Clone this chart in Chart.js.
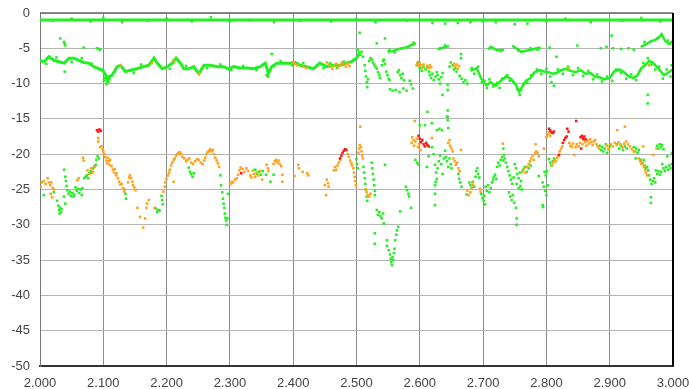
<!DOCTYPE html>
<html>
<head>
<meta charset="utf-8">
<script src="https://cdn.jsdelivr.net/npm/chart.js@4/dist/chart.umd.min.js"></script>
<style>
  html, body { margin: 0; padding: 0; background: #fff; }
  #wrap { width: 689px; height: 389px; }
</style>
</head>
<body>
<div id="wrap"><canvas id="chart" width="689" height="389"></canvas></div>
<script>
// axis ticks
const xTicks = [2.0, 2.1, 2.2, 2.3, 2.4, 2.5, 2.6, 2.7, 2.8, 2.9, 3.0];
const yTicks = [0, -5, -10, -15, -20, -25, -30, -35, -40, -45, -50];

// dense green trace near the top
const topLine = [[2.0, -1.0], [3.0, -1.0]];
const topDots = [[2.02,-1.1],[2.05,-0.8],[2.08,-1.2],[2.10,-0.7],[2.13,-1.3],[2.17,-1.1],[2.20,-0.8],[2.24,-1.2],[2.27,-0.6],[2.30,-1.2],[2.33,-1.0],[2.37,-1.3],[2.41,-1.1],[2.46,-1.2],[2.50,-0.9],[2.53,-1.3],[2.58,-1.1],[2.62,-1.4],[2.64,-1.5],[2.66,-1.4],[2.68,-1.3],[2.70,-1.2],[2.72,-1.3],[2.75,-1.6],[2.77,-1.5],[2.80,-1.2],[2.83,-0.8],[2.87,-1.3],[2.92,-1.1],[2.95,-0.7],[2.98,-1.2]];

// middle band, green trace 2.0 - 2.5
const midBand = [[2.000,-6.7],[2.006,-6.9],[2.014,-6.2],[2.022,-6.7],[2.030,-6.9],[2.038,-7.1],[2.046,-6.4],[2.054,-6.4],[2.061,-6.7],[2.069,-7.0],[2.077,-7.1],[2.085,-7.6],[2.093,-7.9],[2.099,-8.1],[2.104,-8.8],[2.106,-9.5],[2.109,-9.0],[2.114,-8.8],[2.122,-7.6],[2.127,-7.4],[2.135,-8.3],[2.143,-8.1],[2.153,-7.9],[2.164,-7.6],[2.172,-7.4],[2.180,-6.4],[2.185,-7.1],[2.193,-7.9],[2.201,-7.6],[2.209,-7.1],[2.215,-6.4],[2.222,-7.1],[2.227,-7.9],[2.235,-7.9],[2.243,-7.6],[2.251,-8.6],[2.259,-7.4],[2.269,-7.4],[2.280,-7.6],[2.290,-7.6],[2.298,-7.9],[2.306,-7.6],[2.316,-7.8],[2.327,-7.8],[2.337,-7.9],[2.348,-7.6],[2.356,-7.1],[2.361,-8.6],[2.366,-7.6],[2.374,-7.1],[2.385,-7.1],[2.395,-7.1],[2.403,-7.0],[2.411,-7.4],[2.421,-7.6],[2.432,-7.9],[2.442,-7.1],[2.453,-7.6],[2.463,-7.4],[2.474,-7.4],[2.484,-7.1],[2.492,-6.9],[2.500,-6.4],[2.504,-5.8]];

// middle band, lower branch trace 2.68 - 3.0
const lowBranch = [[2.680,-8.2],[2.690,-7.8],[2.697,-9.3],[2.705,-10.2],[2.712,-9.8],[2.720,-10.3],[2.728,-9.6],[2.736,-9.0],[2.744,-9.3],[2.752,-10.2],[2.757,-11.2],[2.762,-10.4],[2.768,-9.6],[2.775,-9.2],[2.781,-8.4],[2.790,-8.1],[2.797,-8.3],[2.803,-8.4],[2.810,-8.6],[2.816,-8.5],[2.823,-8.1],[2.830,-7.9],[2.838,-8.2],[2.846,-8.4],[2.854,-8.1],[2.862,-8.6],[2.870,-8.5],[2.876,-9.0],[2.884,-9.1],[2.892,-9.4],[2.900,-9.2],[2.907,-8.3],[2.915,-8.0],[2.923,-8.4],[2.930,-9.0],[2.938,-9.2],[2.944,-8.8],[2.950,-7.8],[2.956,-7.4],[2.962,-6.8],[2.968,-7.0],[2.974,-7.6],[2.980,-8.2],[2.986,-8.8],[2.992,-8.5],[2.999,-8.0]];

// upper branch pieces (null = gap)
const upBranch = [[2.549,-5.5],[2.557,-5.4],[2.567,-5.1],[2.578,-4.9],[2.588,-4.5],[2.594,-4.3],[2.60,null],[2.628,-5.2],[2.636,-4.9],[2.646,-4.7],[2.65,null],[2.707,-5.1],[2.715,-4.9],[2.722,-5.3],[2.733,-5.2],[2.74,null],[2.746,-4.6],[2.752,-5.0],[2.760,-5.5],[2.770,-5.3],[2.780,-5.1],[2.791,-4.9],[2.80,null],[2.949,-4.8],[2.958,-4.4],[2.965,-4.0],[2.972,-3.8],[2.978,-3.4],[2.982,-3.0],[2.988,-4.0],[2.994,-4.4],[2.999,-4.0]];

const greenPts = [
  // upper zone outliers
  [2.032,-3.6],[2.038,-4.1],[2.039,-4.4],[2.040,-4.6],[2.069,-4.9],[2.090,-5.0],[2.093,-5.1],[2.095,-5.2],[2.039,-8.3],[2.101,-9.6],[2.105,-10.1],[2.108,-9.8],[2.103,-9.2],[2.110,-9.4],[2.358,-8.8],[2.360,-9.0],[2.366,-5.8],
  [2.505,-2.8],[2.532,-4.3],[2.545,-3.6],[2.805,-4.9],[2.816,-6.2],[2.849,-4.6],[2.886,-5.0],[2.895,-4.8],[2.903,-3.2],[2.905,-5.0],[2.918,-5.1],[2.930,-5.0],[2.938,-5.2],[2.960,-11.6],[2.960,-12.8],
  [2.552,-5.2],[2.560,-5.6],[2.572,-5.0],[2.583,-4.7],[2.590,-4.2],[2.632,-5.0],[2.640,-4.6],[2.712,-4.8],[2.728,-5.4],[2.756,-5.3],[2.775,-5.0],[2.786,-5.2],[2.955,-4.1],[2.975,-3.6],[2.992,-3.9],
  // jitter along the 2.0 - 2.5 band
  [2.010,-7.2],[2.026,-6.3],[2.050,-6.9],[2.066,-6.4],[2.082,-7.2],[2.118,-8.3],[2.131,-7.8],[2.148,-8.5],[2.160,-7.3],[2.176,-7.0],[2.190,-7.5],[2.205,-7.9],[2.219,-6.8],[2.231,-7.5],[2.247,-8.2],[2.264,-7.8],[2.285,-7.3],[2.302,-8.1],[2.321,-7.5],[2.342,-8.1],[2.352,-7.3],[2.370,-7.5],[2.380,-6.8],[2.398,-7.4],[2.416,-7.1],[2.437,-7.5],[2.448,-7.8],[2.458,-7.1],[2.469,-7.8],[2.480,-6.9],[2.496,-6.6],
  // middle band 2.5 - 2.68
  [2.502,-5.2],[2.504,-5.6],[2.506,-5.9],[2.508,-5.5],[2.510,-6.2],[2.513,-7.4],[2.514,-8.2],[2.515,-9.0],[2.516,-9.8],[2.517,-10.5],[2.518,-9.4],
  [2.520,-6.8],[2.522,-6.4],[2.524,-6.6],[2.526,-7.0],[2.528,-7.3],[2.530,-7.6],[2.532,-7.9],[2.534,-8.4],[2.536,-8.8],[2.537,-9.2],
  [2.540,-7.4],[2.542,-6.8],[2.543,-6.6],[2.545,-7.2],[2.547,-8.3],[2.549,-8.8],[2.551,-9.3],[2.552,-9.5],
  [2.553,-10.8],[2.557,-11.0],[2.562,-10.9],[2.568,-11.2],[2.574,-10.7],[2.579,-11.0],
  [2.565,-8.4],[2.567,-8.1],[2.569,-8.8],[2.571,-9.2],[2.573,-8.6],[2.575,-9.5],[2.584,-9.6],[2.586,-10.1],[2.589,-10.7],
  [2.595,-7.4],[2.597,-7.0],[2.600,-7.8],[2.603,-8.2],[2.606,-7.6],[2.609,-8.0],[2.612,-7.7],[2.615,-8.3],
  [2.616,-8.8],[2.618,-9.2],[2.620,-8.6],[2.622,-9.5],[2.625,-9.0],[2.627,-8.4],[2.628,-8.8],[2.630,-9.4],[2.632,-10.0],[2.634,-9.1],[2.636,-8.5],
  [2.644,-10.2],[2.644,-10.9],[2.636,-11.6],[2.647,-7.6],[2.649,-7.0],[2.652,-7.4],[2.654,-8.0],[2.656,-7.8],[2.658,-8.3],
  [2.663,-8.9],[2.666,-9.3],[2.669,-9.8],[2.672,-9.5],[2.675,-10.0],[2.665,-5.8],[2.665,-6.4],
  [2.644,-13.8],[2.612,-14.0],[2.644,-14.7],
  // middle band 2.68 - 3.0
  [2.682,-7.8],[2.686,-8.6],[2.692,-7.6],[2.698,-9.8],[2.702,-9.6],[2.706,-10.6],[2.710,-9.4],[2.716,-10.4],[2.722,-9.9],[2.726,-10.6],[2.730,-9.3],[2.738,-8.8],[2.742,-9.6],[2.748,-9.8],[2.754,-10.8],[2.758,-11.6],[2.760,-10.9],[2.764,-10.0],[2.770,-9.9],[2.776,-8.8],[2.785,-8.0],[2.792,-8.6],[2.800,-7.9],[2.806,-9.0],[2.808,-9.8],[2.812,-10.3],[2.818,-8.0],[2.826,-8.6],[2.834,-7.6],[2.842,-8.8],[2.850,-7.8],[2.858,-8.9],[2.866,-8.2],[2.874,-9.4],[2.880,-8.7],[2.888,-9.7],[2.896,-9.0],[2.904,-9.6],[2.910,-8.0],[2.918,-8.5],[2.926,-9.3],[2.934,-8.7],[2.942,-9.5],[2.948,-8.2],[2.953,-7.1],[2.960,-6.4],[2.966,-7.3],[2.972,-8.0],[2.978,-7.6],[2.984,-9.3],[2.990,-8.0],[2.996,-9.0],[2.998,-7.4],
  // lower band
  [2.006,-25.8],[2.022,-25.4],[2.027,-26.6],[2.029,-27.3],[2.030,-27.9],[2.031,-28.4],[2.032,-27.6],[2.033,-28.2],[2.034,-27.8],
  [2.038,-22.2],[2.040,-23.2],[2.041,-23.8],[2.042,-24.5],[2.038,-26.0],[2.040,-27.0],
  [2.043,-25.1],[2.045,-25.6],[2.047,-25.3],[2.049,-25.9],[2.051,-25.5],[2.053,-26.0],[2.054,-25.7],
  [2.056,-24.7],[2.058,-25.2],[2.060,-24.9],[2.062,-25.5],[2.064,-25.0],[2.066,-25.8],[2.067,-24.8],
  [2.070,-23.4],[2.072,-23.2],[2.074,-23.0],[2.076,-23.4],[2.078,-22.7],[2.080,-22.4],[2.082,-22.6],[2.084,-22.0],[2.086,-21.7],[2.088,-21.5],
  [2.089,-20.8],[2.091,-20.3],[2.093,-20.6],[2.135,-25.6],[2.136,-26.3],
  [2.183,-27.7],[2.185,-28.2],[2.187,-27.9],[2.189,-28.0],[2.192,-25.9],[2.193,-26.5],[2.194,-27.1],
  [2.235,-21.9],[2.237,-22.5],[2.239,-22.8],[2.241,-23.2],[2.243,-22.7],
  [2.285,-23.0],[2.286,-24.4],[2.288,-25.4],[2.289,-26.3],[2.290,-27.0],[2.291,-27.6],[2.292,-28.4],[2.293,-29.0],[2.294,-29.4],[2.295,-30.0],[2.296,-29.1],[2.297,-25.6],
  [2.340,-22.2],[2.343,-22.8],[2.346,-22.5],[2.349,-22.9],[2.352,-22.4],[2.357,-22.9],[2.364,-23.9],[2.369,-22.9],
  [2.500,-20.7],[2.501,-21.4],[2.502,-22.0],
  [2.511,-21.8],[2.512,-22.6],[2.513,-23.4],[2.514,-24.2],[2.515,-25.0],[2.516,-26.0],[2.517,-26.6],
  [2.524,-21.2],[2.525,-22.0],[2.526,-22.8],[2.527,-23.6],[2.528,-24.4],[2.529,-25.2],[2.529,-25.8],[2.545,-21.5],
  [2.532,-27.9],[2.534,-28.6],[2.536,-28.2],[2.538,-28.8],[2.540,-29.1],[2.542,-28.4],[2.543,-29.8],[2.529,-31.2],[2.529,-32.7],
  [2.548,-32.2],[2.548,-33.0],[2.551,-33.6],[2.553,-34.2],[2.554,-34.8],[2.555,-35.3],[2.556,-35.7],[2.557,-34.6],[2.558,-35.0],[2.559,-34.0],[2.560,-33.4],
  [2.561,-32.2],[2.563,-31.4],[2.564,-30.8],[2.566,-30.3],[2.569,-28.1],[2.578,-24.6],[2.580,-25.1],[2.582,-25.6],[2.583,-26.0],[2.586,-27.6],
  [2.593,-20.8],[2.596,-21.2],[2.598,-21.5],
  [2.600,-15.9],[2.608,-15.9],[2.619,-15.6],[2.627,-16.6],[2.631,-16.4],[2.635,-16.6],[2.643,-14.7],[2.644,-15.2],[2.645,-16.3],
  [2.611,-21.8],[2.614,-20.3],[2.619,-19.0],[2.622,-20.0],[2.624,-21.5],[2.626,-22.6],[2.627,-23.5],[2.628,-22.0],[2.630,-21.0],[2.632,-20.2],[2.634,-21.4],[2.636,-22.8],[2.638,-20.6],[2.640,-19.5],[2.625,-23.9],
  [2.624,-24.4],[2.624,-25.6],[2.624,-27.2],[2.641,-20.4],[2.643,-21.0],[2.645,-21.8],[2.647,-20.6],[2.649,-21.4],[2.650,-22.0],
  [2.661,-22.8],[2.662,-23.5],[2.664,-24.0],[2.666,-24.6],[2.674,-25.7],
  [2.678,-24.0],[2.680,-24.4],[2.682,-24.8],[2.684,-23.9],[2.686,-24.6],[2.688,-23.2],[2.689,-22.4],[2.691,-22.0],[2.692,-22.8],[2.694,-23.3],
  [2.697,-25.6],[2.699,-26.2],[2.701,-26.6],[2.703,-27.1],[2.702,-25.9],
  [2.704,-24.6],[2.706,-25.2],[2.708,-24.4],[2.710,-25.4],[2.712,-24.8],[2.714,-24.0],[2.716,-23.6],[2.717,-23.2],[2.719,-22.9],[2.721,-23.5],
  [2.722,-21.8],[2.724,-21.2],[2.726,-21.6],[2.728,-20.8],[2.730,-20.4],[2.732,-20.9],[2.733,-20.1],[2.734,-20.6],[2.732,-19.2],
  [2.736,-21.2],[2.738,-21.8],[2.740,-22.4],[2.742,-23.0],[2.744,-23.6],[2.746,-24.2],[2.748,-23.3],
  [2.741,-25.4],[2.743,-26.0],[2.745,-26.5],[2.747,-25.8],[2.749,-26.9],[2.752,-27.6],[2.753,-29.1],[2.753,-30.0],
  [2.750,-21.4],[2.752,-22.0],[2.754,-22.8],[2.756,-23.4],[2.758,-22.6],[2.760,-23.8],[2.753,-24.2],[2.756,-24.8],[2.759,-24.5],[2.761,-25.0],
  [2.763,-22.2],[2.766,-21.8],[2.769,-22.5],[2.772,-22.0],[2.775,-21.6],[2.788,-23.1],
  [2.794,-24.0],[2.796,-24.6],[2.798,-25.2],[2.800,-25.8],[2.802,-24.4],[2.794,-27.2],[2.795,-27.5],[2.797,-22.5],[2.799,-23.0],[2.801,-22.4],
  [2.804,-20.7],[2.806,-21.2],[2.808,-21.6],[2.810,-21.0],[2.812,-20.6],
  [2.884,-18.8],[2.886,-19.4],[2.888,-19.0],[2.890,-19.6],[2.892,-19.2],[2.894,-18.6],[2.896,-19.8],[2.898,-19.3],[2.900,-18.9],
  [2.912,-18.6],[2.915,-19.2],[2.918,-18.8],[2.921,-19.4],[2.924,-18.9],[2.927,-19.2],
  [2.938,-19.0],[2.940,-19.6],[2.942,-19.2],[2.944,-19.8],[2.946,-19.4],[2.941,-20.6],[2.949,-20.8],[2.951,-21.2],[2.954,-20.8],
  [2.955,-21.6],[2.957,-22.0],[2.959,-21.8],[2.961,-22.3],[2.962,-23.0],[2.964,-23.6],[2.966,-24.2],[2.968,-23.8],[2.970,-23.4],[2.972,-24.0],
  [2.965,-26.1],[2.965,-26.9],[2.973,-22.3],[2.975,-22.8],[2.977,-22.4],[2.979,-22.9],[2.981,-22.5],
  [2.975,-18.8],[2.977,-19.2],[2.979,-18.6],[2.981,-19.0],[2.983,-18.7],[2.985,-19.3],
  [2.983,-21.4],[2.985,-22.0],[2.987,-22.4],[2.989,-21.8],[2.991,-20.3],[2.992,-22.2],[2.994,-21.6],[2.996,-22.0],[2.998,-19.9],[2.998,-21.4]
];

const orangePts = [
  // middle band
  [2.127,-7.4],[2.177,-7.1],[2.211,-6.7],[2.251,-8.6],[2.400,-7.0],[2.403,-7.2],[2.406,-7.4],[2.416,-7.6],[2.420,-7.8],
  [2.453,-7.0],[2.456,-7.3],[2.459,-7.6],[2.462,-7.9],[2.465,-7.5],[2.468,-7.2],[2.471,-7.7],[2.474,-7.4],[2.477,-7.0],[2.480,-7.3],[2.483,-7.6],[2.486,-7.2],[2.489,-7.5],
  [2.596,-7.2],[2.598,-7.5],[2.600,-7.1],[2.602,-7.4],[2.604,-7.8],[2.606,-7.3],[2.612,-7.5],[2.614,-7.8],[2.616,-7.4],[2.618,-7.7],
  [2.654,-7.2],[2.656,-7.6],[2.658,-7.3],[2.660,-7.9],[2.662,-7.5],[2.836,-7.9],[2.962,-7.4],
  // lower band
  [2.001,-24.6],[2.003,-24.0],[2.006,-23.8],[2.009,-24.2],[2.012,-23.4],[2.014,-24.0],[2.016,-24.4],[2.018,-24.0],[2.020,-24.8],[2.022,-25.0],[2.017,-25.6],[2.019,-26.1],
  [2.059,-23.7],[2.061,-23.4],[2.068,-20.5],[2.069,-20.9],[2.075,-22.3],[2.078,-22.8],[2.081,-22.0],[2.084,-22.5],[2.086,-21.8],[2.092,-17.7],[2.092,-18.2],
  [2.095,-19.0],[2.097,-18.9],[2.099,-19.3],[2.100,-19.6],[2.102,-20.0],[2.103,-20.4],[2.105,-20.9],[2.106,-21.3],[2.107,-20.5],[2.109,-21.0],[2.110,-21.5],[2.111,-20.8],[2.113,-21.7],
  [2.115,-22.2],[2.117,-22.6],[2.118,-22.1],[2.120,-23.0],[2.121,-22.7],[2.123,-23.4],[2.125,-23.9],[2.127,-24.3],[2.129,-24.2],[2.131,-24.8],[2.133,-25.3],[2.134,-25.0],
  [2.139,-24.0],[2.141,-23.3],[2.142,-23.0],[2.144,-23.4],[2.146,-23.9],[2.147,-24.4],[2.149,-24.7],[2.151,-25.1],
  [2.154,-27.6],[2.158,-28.9],[2.163,-30.4],[2.166,-29.1],[2.168,-27.6],[2.169,-27.0],[2.172,-26.5],[2.181,-27.6],
  [2.195,-25.3],[2.197,-24.6],[2.198,-24.0],[2.200,-23.5],[2.202,-23.0],[2.204,-22.6],[2.205,-22.2],[2.207,-21.6],[2.209,-21.2],[2.211,-20.8],[2.213,-20.6],[2.215,-20.2],[2.217,-20.0],[2.219,-19.8],[2.221,-19.7],[2.223,-20.0],[2.225,-20.4],[2.211,-23.9],
  [2.228,-20.6],[2.231,-21.0],[2.233,-20.8],[2.236,-20.6],[2.239,-21.2],[2.242,-21.4],[2.245,-21.0],[2.248,-20.7],[2.251,-20.8],[2.254,-21.2],[2.257,-21.4],
  [2.259,-20.9],[2.261,-20.5],[2.263,-20.0],[2.265,-19.7],[2.267,-19.5],[2.269,-19.3],[2.271,-19.6],[2.273,-19.4],[2.275,-20.0],[2.277,-20.5],[2.279,-20.9],[2.281,-21.3],[2.283,-21.8],
  [2.301,-24.2],[2.303,-23.9],[2.305,-24.0],[2.308,-23.6],[2.311,-23.4],[2.313,-22.9],[2.315,-22.3],[2.317,-21.9],[2.320,-22.1],[2.323,-22.5],[2.326,-22.0],[2.329,-22.4],[2.332,-23.0],[2.334,-23.3],
  [2.336,-22.3],[2.338,-22.8],[2.340,-23.2],[2.342,-22.6],[2.345,-23.0],[2.348,-22.4],[2.351,-23.6],[2.358,-21.5],[2.360,-22.0],[2.361,-22.4],
  [2.369,-21.4],[2.371,-21.0],[2.373,-20.8],[2.375,-21.2],[2.377,-20.9],[2.379,-21.4],[2.381,-21.7],[2.383,-22.9],[2.383,-23.9],
  [2.402,-23.1],[2.408,-21.5],[2.409,-22.0],[2.415,-22.5],[2.422,-22.7],[2.424,-23.0],
  [2.450,-24.4],[2.452,-25.8],[2.453,-23.6],[2.455,-24.1],[2.456,-24.6],[2.464,-22.3],[2.466,-21.8],[2.468,-22.2],[2.470,-21.6],[2.472,-21.2],[2.474,-20.8],
  [2.486,-20.0],[2.488,-20.4],[2.490,-20.9],[2.492,-21.3],[2.493,-21.6],[2.495,-22.0],[2.496,-22.6],[2.497,-23.2],[2.498,-23.8],[2.499,-24.4],
  [2.503,-19.8],[2.504,-19.2],[2.505,-18.7],[2.507,-19.0],[2.508,-19.6],[2.509,-20.2],[2.510,-20.6],[2.506,-16.1],
  [2.514,-25.0],[2.516,-25.4],[2.518,-25.8],[2.520,-26.0],[2.522,-25.6],
  [2.587,-18.4],[2.588,-17.6],[2.590,-18.0],[2.591,-18.8],[2.593,-18.2],[2.595,-17.8],[2.597,-19.0],[2.599,-18.6],[2.601,-19.4],[2.592,-15.3],[2.619,-17.7],
  [2.645,-18.4],[2.647,-18.0],[2.648,-18.8],[2.650,-19.2],[2.652,-19.6],[2.653,-20.6],[2.655,-21.0],[2.657,-21.5],[2.659,-21.2],[2.661,-22.0],[2.663,-22.4],[2.665,-19.4],
  [2.675,-25.2],[2.677,-25.8],[2.680,-25.4],[2.682,-24.9],[2.683,-24.0],[2.684,-24.4],[2.695,-24.9],[2.696,-25.3],[2.731,-18.5],
  [2.762,-22.5],[2.765,-22.0],[2.767,-22.6],[2.770,-21.8],[2.772,-21.4],[2.774,-21.0],[2.776,-20.6],[2.778,-20.2],[2.780,-20.8],[2.782,-19.9],[2.784,-19.6],[2.786,-19.8],[2.788,-20.3],[2.783,-18.6],[2.796,-19.2],
  [2.800,-17.6],[2.802,-17.2],[2.804,-16.9],[2.806,-17.4],[2.809,-21.6],[2.811,-21.2],[2.813,-20.8],[2.815,-21.0],[2.817,-20.5],[2.819,-20.2],[2.821,-19.6],[2.823,-19.2],[2.825,-18.9],
  [2.836,-18.4],[2.838,-18.8],[2.840,-19.0],[2.842,-18.5],[2.844,-20.1],[2.846,-19.0],[2.848,-18.6],[2.851,-18.9],[2.853,-18.4],
  [2.857,-18.6],[2.859,-18.0],[2.861,-18.3],[2.863,-18.8],[2.865,-18.1],[2.867,-18.5],[2.869,-17.9],[2.871,-18.3],[2.873,-18.7],[2.875,-18.2],[2.877,-18.0],[2.879,-18.6],[2.881,-18.9],[2.883,-19.2],
  [2.896,-18.8],[2.899,-19.3],[2.902,-18.6],[2.905,-18.9],[2.908,-18.4],[2.911,-18.7],[2.914,-18.3],[2.917,-18.6],[2.920,-19.0],[2.923,-18.5],[2.926,-18.2],[2.929,-18.6],[2.932,-18.9],[2.935,-19.3],[2.938,-19.6],
  [2.912,-16.6],[2.924,-16.1],[2.953,-18.9],[2.946,-20.6],[2.948,-21.0],[2.950,-21.4],[2.952,-21.2],[2.954,-21.8],[2.956,-22.2],[2.957,-22.6],[2.959,-23.0],[2.969,-20.1],[2.974,-19.2]
];

const redPts = [
  [2.090,-16.6],[2.092,-16.8],[2.094,-16.5],[2.096,-16.7],[2.318,-22.7],
  [2.474,-20.6],[2.476,-20.2],[2.478,-19.8],[2.480,-19.5],[2.482,-19.3],[2.484,-19.4],
  [2.598,-17.4],[2.600,-17.8],[2.602,-18.3],[2.604,-18.0],[2.606,-18.6],[2.608,-18.9],[2.610,-18.4],[2.612,-18.7],[2.614,-18.9],
  [2.804,-16.4],[2.806,-16.6],[2.808,-16.9],[2.810,-17.0],[2.812,-16.8],[2.820,-20.1],
  [2.826,-18.4],[2.828,-18.0],[2.830,-17.7],[2.832,-17.5],[2.833,-16.4],[2.835,-16.8],[2.847,-15.3],
  [2.854,-17.6],[2.856,-17.4],[2.858,-17.8],[2.860,-17.5],[2.862,-17.9],[2.855,-19.2]
];

const GREEN = '#22f022';
const ORANGE = '#ffa21c';
const RED = '#ff1414';

const toXY = arr => arr.map(([x, y]) => ({ x: x, y: y }));

function dots(data, color) {
  return { data: toXY(data), backgroundColor: color, borderWidth: 0,
    pointStyle: 'rect', pointRadius: 1.8, pointHoverRadius: 1.8 };
}
function trace(data, color, w) {
  return { data: toXY(data), showLine: true, borderColor: color, borderWidth: w,
    pointRadius: 0, spanGaps: false, tension: 0 };
}

// frame around the plot area
const framePlugin = {
  id: 'frame',
  afterDraw(chart) {
    const { ctx, chartArea: a } = chart;
    ctx.save();
    ctx.strokeStyle = '#666';
    ctx.lineWidth = 1.5;
    ctx.beginPath();
    ctx.moveTo(a.left, a.top);
    ctx.lineTo(a.right, a.top);
    ctx.stroke();
    ctx.strokeStyle = '#000';
    ctx.lineWidth = 2;
    ctx.beginPath();
    ctx.moveTo(a.right, a.top);
    ctx.lineTo(a.right, a.bottom);
    ctx.stroke();
    ctx.restore();
  }
};

new Chart(document.getElementById('chart'), {
  type: 'scatter',
  data: {
    datasets: [
      dots(redPts, RED),
      dots(orangePts, ORANGE),
      dots(greenPts, GREEN),
      dots(topDots, GREEN),
      trace(topLine, GREEN, 3),
      trace(midBand, GREEN, 3),
      trace(lowBranch, GREEN, 2.5),
      trace(upBranch, GREEN, 2.5)
    ]
  },
  plugins: [framePlugin],
  options: {
    responsive: false,
    animation: false,
    layout: { padding: { top: 13, right: 16, left: 0, bottom: 0 } },
    plugins: { legend: { display: false }, tooltip: { enabled: false } },
    scales: {
      x: {
        type: 'linear',
        min: 2, max: 3,
        afterFit(s) { s.height = 23; s.paddingLeft = 0; s.paddingRight = 0; },
        afterBuildTicks(s) { s.ticks = xTicks.map(v => ({ value: v })); },
        ticks: {
          autoSkip: false, maxRotation: 0, padding: 10, color: '#444',
          font: { family: 'Liberation Sans, Arial, sans-serif', size: 13 },
          callback: v => Number(v).toFixed(3)
        },
        grid: { color: '#8c8c8c', lineWidth: 1, drawTicks: false },
        border: { color: '#333', width: 2 }
      },
      y: {
        type: 'linear',
        min: -50, max: 0,
        afterFit(s) { s.width = 40; s.paddingTop = 0; s.paddingBottom = 0; },
        afterBuildTicks(s) { s.ticks = yTicks.map(v => ({ value: v })); },
        ticks: {
          autoSkip: false, padding: 10, color: '#444',
          font: { family: 'Liberation Sans, Arial, sans-serif', size: 13 },
          callback: v => String(v)
        },
        grid: { color: '#b4b4b4', lineWidth: 1, drawTicks: false },
        border: { color: '#777', width: 1 }
      }
    }
  }
});
</script>
</body>
</html>
